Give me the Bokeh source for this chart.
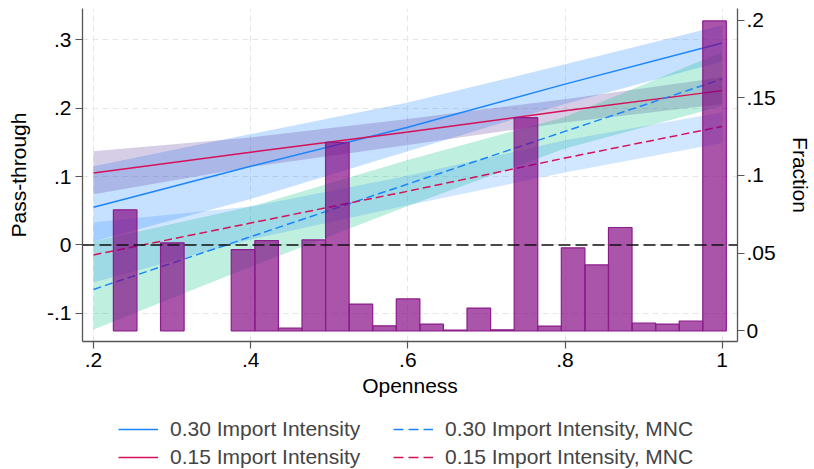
from bokeh.plotting import figure
from bokeh.layouts import column
from bokeh.models import Range1d, LinearAxis, FixedTicker, Legend, LegendItem, Span, ColumnDataSource
from bokeh.embed import file_html
from bokeh.resources import INLINE

# ---- data ----
openness = [0.2, 0.4, 0.6, 0.8, 1.0]

pt_030 = [0.055, 0.115, 0.172, 0.235, 0.295]
pt_030_lo = [0.005, 0.067, 0.137, 0.206, 0.268]
pt_030_hi = [0.115, 0.162, 0.208, 0.264, 0.321]

pt_015 = [0.105, 0.1355, 0.165, 0.196, 0.2255]
pt_015_lo = [0.074, 0.114, 0.146, 0.179, 0.206]
pt_015_hi = [0.137, 0.157, 0.184, 0.213, 0.245]

pt_030_mnc = [-0.065, 0.012, 0.089, 0.166, 0.2425]
pt_030_mnc_lo = [-0.1235, -0.032, 0.057, 0.141, 0.203]
pt_030_mnc_hi = [0.005, 0.056, 0.124, 0.187, 0.282]

pt_015_mnc = [-0.0146, 0.032, 0.0785, 0.127, 0.1732]
pt_015_mnc_lo = [-0.055, 0.008, 0.058, 0.106, 0.149]
pt_015_mnc_hi = [0.033, 0.056, 0.101, 0.153, 0.194]

bin_start = 0.2253
bin_width = 0.0300
fraction = [0.0779, 0.0, 0.0566, 0.0, 0.0, 0.0523, 0.0581, 0.0017, 0.0585, 0.1213,
            0.0172, 0.0032, 0.0205, 0.0043, 0.0004, 0.0146, 0.0006, 0.1372, 0.0030,
            0.0534, 0.0424, 0.0665, 0.0050, 0.0043, 0.0063, 0.1995]

x_ticks = [0.2, 0.4, 0.6, 0.8, 1.0]
x_tick_labels = [".2", ".4", ".6", ".8", "1"]
y_ticks = [-0.1, 0.0, 0.1, 0.2, 0.3]
y_tick_labels = ["-.1", "0", ".1", ".2", ".3"]
f_ticks = [0.0, 0.05, 0.1, 0.15, 0.2]
f_tick_labels = ["0", ".05", ".1", ".15", ".2"]

labels = ["0.30 Import Intensity", "0.15 Import Intensity",
          "0.30 Import Intensity, MNC", "0.15 Import Intensity, MNC"]

BLUE = "#1a85ff"
RED = "#d41159"
FONT = "Liberation Sans"
FS = "21px"

p = figure(width=814, height=405, output_backend="svg", toolbar_location=None,
           x_range=Range1d(0.186, 1.0195), y_range=Range1d(-0.1411, 0.3455),
           min_border_left=82, min_border_right=73, min_border_top=8, min_border_bottom=64)
p.outline_line_color = None
p.background_fill_color = "white"
p.border_fill_color = "white"

p.extra_y_ranges = {"frac": Range1d(-0.0069, 0.2075)}

# grids
for g in (p.xgrid, p.ygrid):
    g.grid_line_color = "#e6e6e6"
    g.grid_line_dash = "6 4"
    g.grid_line_width = 1

# confidence bands
p.varea(x=openness, y1=pt_030_lo, y2=pt_030_hi, fill_color=BLUE, fill_alpha=0.25)
p.varea(x=openness, y1=pt_015_lo, y2=pt_015_hi, fill_color="#5d3a9b", fill_alpha=0.25)
p.varea(x=openness, y1=pt_030_mnc_lo, y2=pt_030_mnc_hi, fill_color="#00bf7f", fill_alpha=0.25)
p.varea(x=openness, y1=pt_015_mnc_lo, y2=pt_015_mnc_hi, fill_color=BLUE, fill_alpha=0.2)

zero = Span(location=0, dimension="width", line_color="#111111", line_width=1.5, line_dash="12 5")
p.add_layout(zero)

line_styles = [dict(line_color=BLUE, line_width=1.5),
               dict(line_color=RED, line_width=1.5),
               dict(line_color=BLUE, line_width=1.5, line_dash="8 4"),
               dict(line_color=RED, line_width=1.5, line_dash="8 4")]
series = [pt_030, pt_015, pt_030_mnc, pt_015_mnc]
for ys, st in zip(series, line_styles):
    p.line(openness, ys, **st)

# histogram (fraction, right axis)
lefts = [bin_start + i * bin_width for i, f in enumerate(fraction) if f > 0]
rights = [l + bin_width for l in lefts]
tops = [f for f in fraction if f > 0]
src = ColumnDataSource(dict(left=lefts, right=rights, top=tops, bottom=[0.0] * len(tops)))
p.quad(left="left", right="right", top="top", bottom="bottom", source=src,
       y_range_name="frac", fill_color="#800080", fill_alpha=0.67,
       line_color="#8b1c8b", line_width=1.2)

# axes styling
def style_axis(ax, ticks, tick_labels, title, standoff, title_standoff):
    ax.ticker = FixedTicker(ticks=ticks)
    ax.major_label_overrides = {t: l for t, l in zip(ticks, tick_labels)}
    ax.minor_tick_line_color = None
    ax.major_tick_in = 0
    ax.major_tick_out = 7
    ax.major_tick_line_color = "#555555"
    ax.major_tick_line_width = 1.2
    ax.axis_line_color = "#555555"
    ax.axis_line_width = 1.3
    ax.major_label_text_font = FONT
    ax.major_label_text_font_size = FS
    ax.major_label_text_color = "black"
    ax.major_label_standoff = standoff
    ax.axis_label = title
    ax.axis_label_text_font = FONT
    ax.axis_label_text_font_size = FS
    ax.axis_label_text_font_style = "normal"
    ax.axis_label_text_color = "black"
    ax.axis_label_standoff = title_standoff

style_axis(p.xaxis[0], x_ticks, x_tick_labels, "Openness", 4, 4)
style_axis(p.yaxis[0], y_ticks, y_tick_labels, "Pass-through", 4, 14)

raxis = LinearAxis(y_range_name="frac")
style_axis(raxis, f_ticks, f_tick_labels, "Fraction", 2, 10)
p.add_layout(raxis, "right")

# legend strip below the chart (legend keys only; NaN data draws nothing)
nan = float("nan")
key_styles = [dict(line_color=BLUE, line_width=1.5),
              dict(line_color=RED, line_width=1.5),
              dict(line_color=BLUE, line_width=1.5, line_dash="10 5"),
              dict(line_color=RED, line_width=1.5, line_dash="10 5")]
lf = figure(width=814, height=64, output_backend="svg", toolbar_location=None,
            x_axis_type=None, y_axis_type=None, x_range=Range1d(0, 1), y_range=Range1d(0, 1),
            min_border=0)
lf.outline_line_color = None
lf.xgrid.visible = False
lf.ygrid.visible = False
keys = [lf.line(x=[nan, nan], y=[nan, nan], **st) for st in key_styles]

def make_legend(idx, x):
    return Legend(items=[LegendItem(label=labels[i], renderers=[keys[i]]) for i in idx],
                  location=(x, 0), orientation="vertical",
                  label_text_font=FONT, label_text_font_size=FS,
                  label_standoff=12, glyph_width=40, glyph_height=24, label_height=24,
                  spacing=4, padding=0, margin=0,
                  border_line_alpha=0, background_fill_alpha=0)

# the strip's frame is aligned with the chart's frame (left edge at 82 px)
lf.add_layout(make_legend([0, 1], 36), "center")
lf.add_layout(make_legend([2, 3], 311), "center")

layout = column(p, lf, spacing=0)
open("out.html", "w").write(file_html(layout, INLINE))
